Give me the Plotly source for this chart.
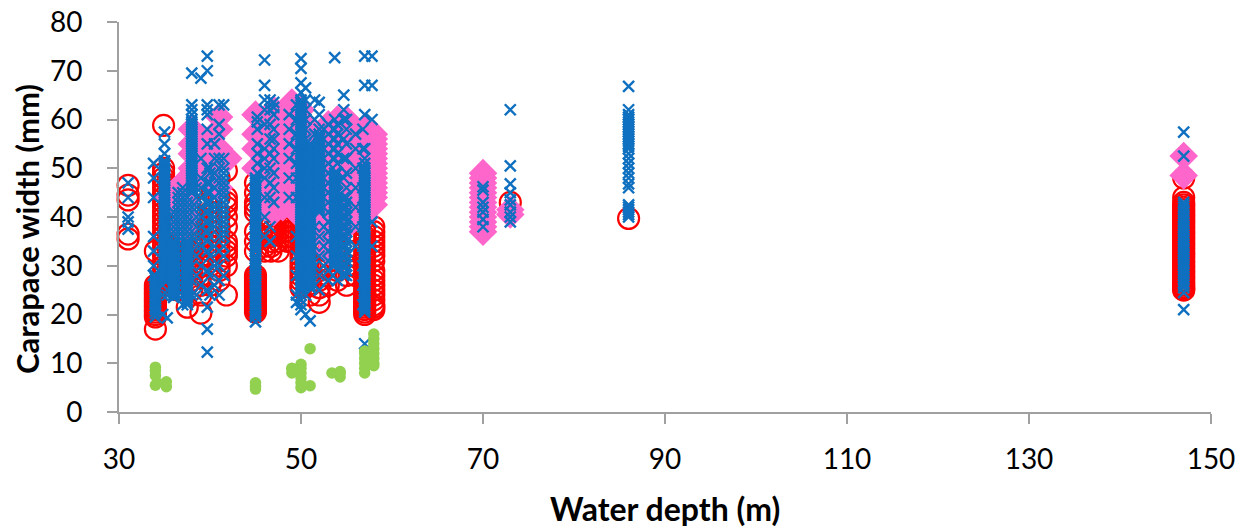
import plotly.graph_objects as go

x_ticks = [30, 50, 70, 90, 110, 130, 150]
y_ticks = [0, 10, 20, 30, 40, 50, 60, 70, 80]

green_depths = [34, 34.2, 35.2, 45, 49, 49.6, 50, 51, 51, 53.4, 54.3, 57, 58]
green_widths = [
    [5.5, 7.5, 8.5, 9.2],
    [6],
    [5.2, 6.2],
    [4.7, 5.3, 6],
    [8, 8.8, 9],
    [8.5],
    [5, 6, 7, 8, 9, 9.8],
    [13],
    [5.4],
    [8],
    [7.2, 8, 8.3],
    [8, 9, 10, 11, 12, 12.5],
    [9.5, 10, 11, 12, 13, 14, 15, 16],
]

red_depths = [31, 34, 34.9, 35.6, 36.5, 37.5, 38, 39, 40, 41, 41.8, 45, 46, 46.7, 47.5, 48.5, 49, 50, 51, 52, 53, 54, 55, 56, 57, 58, 70, 73, 86, 147]
red_widths = [
    [35.5, 36.5, 43.5, 44.5, 46.5],
    [17, 19.5, 20, 20.5, 21, 21.5, 22, 22.5, 23, 23.5, 24, 24.5, 25, 25.5, 26, 33],
    [27, 28, 29, 30, 31, 32, 33, 34, 35, 36, 37, 38, 39, 40, 41, 42, 43, 44, 45, 46, 47, 48, 49, 50, 58.8],
    [26, 28, 30, 32, 34, 36, 38, 40, 42, 44, 46],
    [25, 27, 29, 31, 33, 35, 37, 39],
    [21.5, 26, 28, 30, 32, 34, 36, 38, 40],
    [25, 27, 29, 31, 33, 35, 37, 39, 41, 45],
    [20.3, 24, 26, 28, 30, 32, 34, 35, 36, 38, 40, 42, 44, 46],
    [26, 28, 30, 32, 33, 34, 36, 38, 39, 41, 43, 47],
    [27, 29, 30, 31, 33, 35, 37, 38, 40, 41, 44, 48],
    [24, 30, 32, 33, 34, 35, 38, 40, 42, 43, 44, 49.5],
    [20.5, 21, 21.5, 22, 22.5, 23, 23.5, 24, 24.5, 25, 25.5, 26, 26.5, 27, 27.5, 28, 33, 35, 37, 41, 42, 43, 45, 47],
    [33, 34, 36, 38, 40, 42],
    [33, 34, 35, 36, 37, 38, 39],
    [33, 35, 37, 39],
    [35, 36, 37, 38, 40, 42],
    [35, 36, 37, 38, 39, 40, 41, 42, 43, 44, 45],
    [25.5, 26, 27, 28, 29, 30, 31, 32, 33, 34, 35, 36, 37, 38, 39, 40, 41, 42, 43, 44, 45],
    [24, 26, 28, 30, 32, 34, 36, 38, 40],
    [22.5, 24, 25.5, 27, 29, 31, 34],
    [26, 28, 30, 33],
    [27, 29, 31],
    [26, 28, 30, 33],
    [28, 30, 33],
    [20, 20.5, 21, 21.5, 22, 22.5, 23, 23.5, 24, 24.5, 25, 26, 27, 28, 29, 30, 31, 32, 33, 34, 35, 36, 37, 38],
    [21, 21.5, 22, 23, 24, 25, 26, 27, 28, 29, 31, 32, 33, 34, 35, 36, 37, 38],
    [41],
    [43],
    [39.7],
    [25, 25.3, 25.6, 26, 26.5, 27, 27.5, 28, 28.5, 29, 29.5, 30, 30.5, 31, 31.5, 32, 32.5, 33, 33.5, 34, 34.5, 35, 35.5, 36, 36.5, 37, 37.5, 38, 38.5, 39, 39.5, 40, 40.5, 41, 41.5, 42, 42.5, 43, 44, 48],
]

pink_depths = [35.5, 37, 37.5, 38, 39, 40, 41, 42, 45, 46, 47, 48, 49, 50, 51, 52, 53, 54, 55, 56, 57, 58, 70, 73, 147]
pink_widths = [
    [44],
    [37.5, 39, 41, 44, 47],
    [40, 43, 46],
    [48, 50, 53, 55, 58],
    [49, 52],
    [50, 52, 54, 55, 56],
    [46, 54, 58, 60.5],
    [52],
    [50, 54, 57, 61],
    [42, 44, 46, 48, 50, 52, 54, 56],
    [41, 44, 46, 50, 54, 57, 60, 62],
    [42, 44, 48, 52, 56, 58],
    [42, 44, 48, 52, 56, 59, 61, 63.5],
    [40, 42, 46, 50, 54, 58, 62],
    [40, 44, 48, 52, 55, 58],
    [38, 41, 44, 47, 50, 53, 57],
    [33, 35, 38, 41, 44, 47, 50, 53, 56, 59],
    [38, 41, 44, 47, 50, 53, 56, 60],
    [38, 42, 45, 48, 51, 54, 57, 60],
    [40, 43, 46, 49, 52, 55, 57],
    [40, 42, 44, 47, 50, 53, 56, 58],
    [42.5, 44, 45, 46, 47, 48, 49, 50, 51, 52, 53, 54, 55, 56, 57],
    [37, 38, 39, 40, 41, 42, 43, 44, 45, 46, 47, 48, 49],
    [40.5, 41.5],
    [48.5, 52.5],
]

blue_depths = [31, 33.8, 34, 34.8, 35, 35.3, 36, 36.5, 37, 37.5, 38, 38.5, 39, 39.7, 40, 40.5, 41, 41.5, 45, 45.2, 46, 46.6, 47, 48.7, 49.5, 50, 50.5, 51, 51.5, 52, 52.5, 53, 53.7, 54, 54.7, 55, 56, 56.8, 57, 57.8, 70, 73, 86, 147]
blue_widths = [
    [37.5, 39, 40, 44, 47],
    [28, 30, 33, 36, 44, 48, 51],
    [19.5, 20.3, 21, 21.5, 22, 22.5, 23, 23.5, 24, 24.5, 25, 25.5, 26, 26.5, 27, 27.5, 28],
    [20, 24, 26, 28],
    [27, 27.5, 28, 28.5, 29, 29.5, 30, 30.5, 31, 31.5, 32, 32.5, 33, 33.5, 34, 34.5, 35, 35.5, 36, 36.5, 37, 37.5, 38, 38.5, 39, 39.5, 40, 40.5, 41, 41.5, 42, 42.5, 43, 43.5, 44, 44.5, 45, 45.5, 46, 46.5, 47, 47.5, 48, 48.5, 49, 49.5, 50, 50.5, 51, 51.5, 53, 55, 57.4],
    [19.3, 24],
    [23.5, 24, 24.5, 25, 25.5, 26, 26.5, 27, 27.5, 28, 28.5, 29, 29.5, 30, 30.5, 31, 31.5, 32, 32.5, 33, 33.5, 34, 34.5, 35, 36, 37, 38, 39, 40, 41],
    [24, 26, 28, 30, 32, 34, 36, 37, 38, 39, 40, 41, 42, 43, 44, 45],
    [22, 24, 26, 28, 30, 32, 34, 36, 37, 38, 39, 40, 41, 42, 43, 44, 45, 46],
    [22, 22.5, 23, 23.5, 24, 24.5, 25, 25.5, 26, 26.5, 27, 27.5, 28, 28.5, 29, 29.5, 30, 30.5, 31, 31.5, 32, 32.5, 33, 33.5, 34, 34.5, 35, 36, 37, 38, 39, 40, 41, 42, 43, 44],
    [24, 27, 30, 33, 36, 39, 42, 45, 45.5, 46, 46.5, 47, 47.5, 48, 48.5, 49, 49.5, 50, 50.5, 51, 51.5, 52, 52.5, 53, 53.5, 54, 54.5, 55, 55.5, 56, 56.5, 57, 57.5, 58, 58.5, 59, 59.5, 60, 61, 62, 63, 69.5],
    [24, 28, 32, 34, 36, 38, 40, 42, 44, 46],
    [26, 30, 34, 36, 38, 40, 42, 44, 46, 48, 52, 68.5],
    [12.3, 17, 21.5, 25, 29, 33, 35, 37, 39, 41, 43, 45, 47, 50, 55, 58, 61, 62, 63, 70, 73],
    [24, 28, 32, 36, 38, 40, 42, 43, 45, 47, 49, 50],
    [26, 30, 34, 38, 40, 42, 44, 46, 49, 52, 55],
    [24, 27, 30, 33, 36, 39, 42, 45, 47, 48, 50, 52, 57, 59, 63],
    [28, 32, 34, 36, 37, 38, 39, 40, 41, 42, 43, 44, 45, 46, 47, 48, 49, 50, 52, 63],
    [18.5, 19.5, 20, 20.5, 21, 21.5, 22, 22.5, 23, 23.5, 24, 24.5, 25, 25.5, 26, 26.5, 27, 27.5, 28, 28.5, 29, 29.5, 30, 30.5, 31, 31.5, 32, 33, 33.5, 34, 34.5, 35, 35.5, 36, 36.5, 37, 37.5, 38, 38.5, 39, 39.5, 40, 40.5, 41, 41.5, 42, 42.5, 43, 43.5, 44, 44.5, 45, 45.5, 46, 46.5, 47, 47.5, 48],
    [49, 51, 53, 55, 58, 59.5, 60.5],
    [36, 40, 44, 48, 50, 52, 54, 59, 62, 64, 67, 72.2],
    [35, 38, 44, 47, 50, 53, 56, 59, 62, 64],
    [43, 46, 49, 52, 54, 56, 58, 61, 62.5, 63.5],
    [44, 48, 52, 55, 58, 61],
    [22.5, 24, 28, 32, 36, 44, 48, 51, 54, 57, 60, 63],
    [21, 22, 23, 24, 25, 25.5, 26, 26.5, 27, 27.5, 28, 28.5, 29, 29.5, 30, 30.5, 31, 31.5, 32, 32.5, 33, 33.5, 34, 34.5, 35, 35.5, 36, 36.5, 37, 37.5, 38, 38.5, 39, 39.5, 40, 40.5, 41, 41.5, 42, 42.5, 43, 43.5, 44, 44.5, 45, 45.5, 46, 46.5, 47, 47.5, 48, 48.5, 49, 49.5, 50, 50.5, 51, 51.5, 52, 52.5, 53, 53.5, 54, 54.5, 55, 55.5, 56, 56.5, 57, 57.5, 58, 58.5, 59, 59.5, 60, 60.5, 61, 61.5, 62, 62.5, 63, 63.5, 64, 65.5, 67.5, 70.5, 72.5],
    [20, 24, 26, 27, 28, 29, 30, 31, 32, 33, 34, 35, 36, 37, 38, 39, 40, 41, 42, 43, 44, 45, 46, 47, 48, 49, 50, 51, 52, 53, 54, 55, 56, 58, 60, 62, 64, 66.5],
    [18.7, 25.5, 26, 26.5, 27, 27.5, 28, 28.5, 29, 29.5, 30, 30.5, 31, 31.5, 32, 32.5, 33, 33.5, 34, 34.5, 35, 35.5, 36, 36.5, 37, 37.5, 38, 38.5, 39, 39.5, 40, 40.5, 41, 41.5, 42, 42.5, 43, 43.5, 44, 44.5, 45, 45.5, 46, 46.5, 47, 47.5, 48, 48.5, 49, 49.5, 50, 50.5, 51, 51.5, 52, 52.5, 53, 53.5, 54, 54.5, 55],
    [26, 30, 34, 38, 42, 46, 50, 54, 57, 60, 64],
    [25, 28, 32, 36, 41, 41.5, 42, 42.5, 43, 43.5, 44, 44.5, 45, 45.5, 46, 46.5, 47, 47.5, 48, 48.5, 49, 49.5, 50, 50.5, 51, 51.5, 52, 52.5, 53, 53.5, 54, 54.5, 55, 55.5, 56, 56.5, 57, 58, 61, 63.5],
    [30, 34, 38, 46, 50, 54, 58],
    [27, 29, 31, 33, 35, 37, 39, 41, 43, 45, 47, 49, 51, 53, 55, 57, 59],
    [30, 30.5, 31, 31.5, 32, 32.5, 33, 33.5, 34, 34.5, 35, 35.5, 36, 36.5, 37, 37.5, 38, 38.5, 39, 39.5, 40, 40.5, 41, 41.5, 42, 42.5, 43, 43.5, 44, 44.5, 45, 45.5, 46, 46.5, 47, 47.5, 48, 48.5, 49, 52, 54, 56, 58, 60, 72.7],
    [27, 29, 31, 33, 35, 37, 39, 41, 43, 45, 47, 49, 51, 53, 55, 57, 59],
    [28, 30, 32, 34, 36, 38, 40, 42, 44, 48, 52, 56, 60, 62, 65],
    [28, 29, 30, 31, 32, 33, 34, 35, 36, 37, 38, 39, 40, 41, 42, 43, 44, 46, 49, 52, 55, 58, 60],
    [34, 38, 42, 46, 50, 54, 57],
    [22, 26, 30, 34, 38, 42, 46, 50, 54, 58],
    [14, 20.5, 21, 21.5, 22, 22.5, 23, 23.5, 24, 24.5, 25, 25.5, 26, 26.5, 27, 27.5, 28, 28.5, 29, 29.5, 30, 30.5, 31, 31.5, 32, 32.5, 33, 33.5, 34, 34.5, 35, 35.5, 36, 36.5, 37, 37.5, 38, 38.5, 39, 39.5, 40, 40.5, 41, 41.5, 42, 42.5, 43, 43.5, 44, 44.5, 45, 45.5, 46, 46.5, 47, 47.5, 48, 48.5, 49, 49.5, 50, 51, 52, 54, 61, 67, 73],
    [34, 39, 60, 67, 73],
    [38, 39.5, 41, 42, 43, 45.5, 46.2],
    [39, 40, 41, 42.5, 43.5, 45, 46.8, 50.5, 62],
    [40, 40.5, 41, 41.5, 42, 42.5, 46, 46.8, 48, 49, 50, 51, 52, 53, 54, 54.5, 55, 55.5, 56, 56.5, 57, 57.5, 58, 58.5, 59, 59.5, 60, 60.5, 61, 62, 66.8],
    [21, 24.5, 25.5, 26, 26.5, 27, 27.5, 28, 28.5, 29, 29.5, 30, 30.5, 31, 31.5, 32, 32.5, 33, 33.5, 34, 34.5, 35, 35.5, 36, 36.5, 37, 37.5, 38, 38.5, 39, 39.5, 40, 40.5, 41, 41.5, 42, 42.5, 43, 52.5, 57.4],
]


def flatten(depths, widths):
    xs, ys = [], []
    for d, col in zip(depths, widths):
        xs += [d] * len(col)
        ys += col
    return xs, ys


fig = go.Figure()

x, y = flatten(red_depths, red_widths)
fig.add_trace(go.Scatter(x=x, y=y, mode="markers", cliponaxis=False,
                         marker=dict(symbol="circle-open", size=21, color="#ff0000", line=dict(width=2.2, color="#ff0000"))))
x, y = flatten(pink_depths, pink_widths)
fig.add_trace(go.Scatter(x=x, y=y, mode="markers", cliponaxis=False,
                         marker=dict(symbol="diamond", size=22, color="#ff66cc", line_width=0)))
x, y = flatten(blue_depths, blue_widths)
fig.add_trace(go.Scatter(x=x, y=y, mode="markers", cliponaxis=False,
                         marker=dict(symbol="x-thin-open", size=11, color="#0f70c0", line=dict(width=2.4, color="#0f70c0"))))
x, y = flatten(green_depths, green_widths)
fig.add_trace(go.Scatter(x=x, y=y, mode="markers", cliponaxis=False,
                         marker=dict(symbol="circle", size=11.5, color="#92d050", line_width=0)))

axis_common = dict(showgrid=False, zeroline=False, showline=True, linecolor="#a0a0a0", linewidth=2,
                   ticks="outside", tickcolor="#a0a0a0", tickwidth=2, ticklen=10,
                   tickfont=dict(family="Lato", size=28, color="#000000"))

fig.update_layout(
    width=1248, height=527, showlegend=False,
    paper_bgcolor="white", plot_bgcolor="white",
    margin=dict(l=119, r=37, t=22, b=115, autoexpand=False),
    font=dict(family="Lato", color="#000000"),
    xaxis=dict(range=[30, 150], tickvals=x_ticks, ticklabelstandoff=11, **axis_common),
    yaxis=dict(range=[0, 80], tickvals=y_ticks, ticklabelstandoff=19, **axis_common),
    annotations=[
        dict(text="<b>Water depth (m)</b>", xref="paper", yref="paper", x=0.5, y=0, yanchor="middle",
             yshift=-96, showarrow=False, font=dict(size=32)),
        dict(text="<b>Carapace width (mm)</b>", xref="paper", yref="paper", x=0, y=0.469, xanchor="center",
             yanchor="middle", xshift=-92, textangle=-90, showarrow=False, font=dict(size=31)),
    ],
)

fig.write_html("out.html", config={"displayModeBar": False},
               post_script="document.body.style.margin='0';document.documentElement.style.overflow='hidden';")
